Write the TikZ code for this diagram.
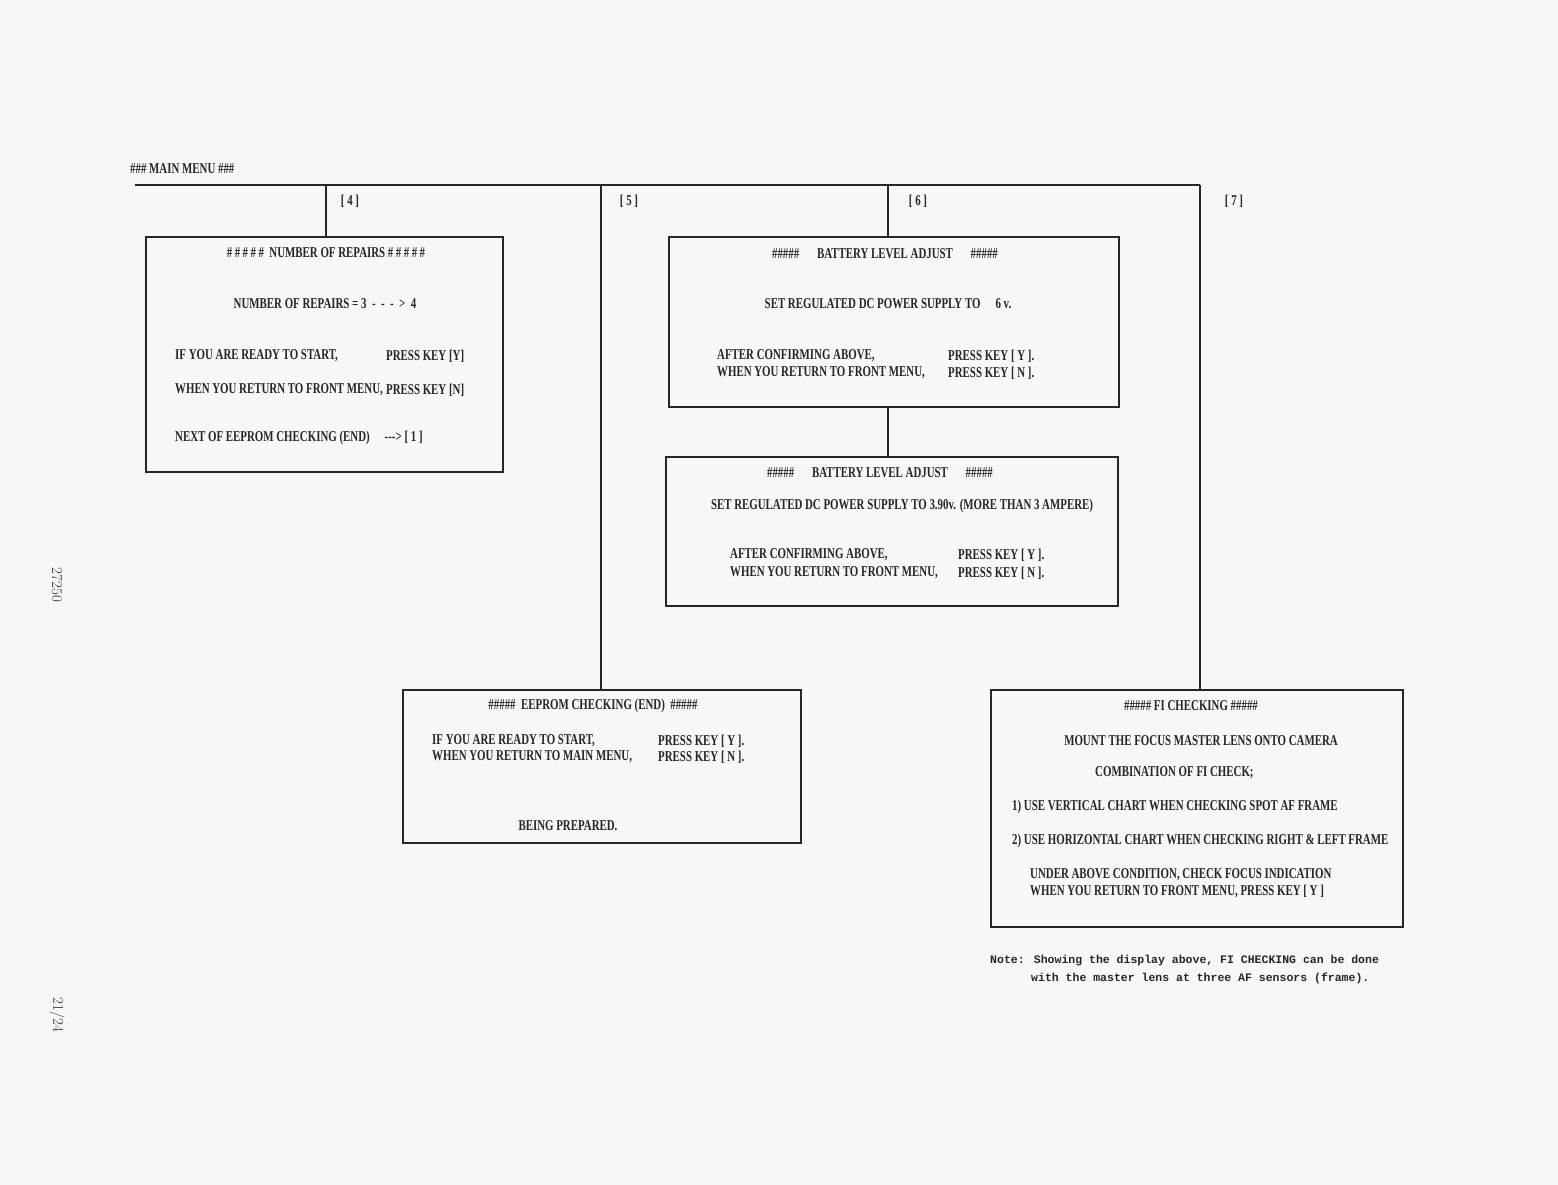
\documentclass[tikz,border=0pt]{standalone}
\usepackage{fontspec}
\newfontfamily\dotfont[FakeStretch=0.725]{Liberation Serif}
\newfontfamily\notefont{Liberation Mono}
\usetikzlibrary{backgrounds}

\begin{document}
\begin{tikzpicture}[x=1pt,y=-1pt,
  screen/.style={draw=black!85,line width=1.2pt,rectangle,inner sep=0pt},
  txt/.style={font=\fontsize{15}{17}\selectfont\dotfont\bfseries,text=black!85,inner sep=0pt},
  lft/.style={txt,anchor=west},
  note/.style={font=\fontsize{11.5}{13}\selectfont\notefont\bfseries,text=black!85,inner sep=0pt,anchor=west},
  side/.style={rotate=-90,font=\fontsize{15}{15}\selectfont,text=black!80,inner sep=0pt},
  wire/.style={draw=black!85,line width=1.4pt}]
\useasboundingbox (0,0) rectangle (1558,1185);
\fill[black!3] (0,0) rectangle (1558,1185);

% menu bar and branch points
\node[lft] (menu) at (130,169) {\#\#\# MAIN MENU \#\#\#};
\coordinate (bar) at (135,185);
\coordinate (b4) at (326,185);
\coordinate (b5) at (601,185);
\coordinate (b6) at (888,185);
\coordinate (b7) at (1200,185);
\node[txt] (l4) at (350,201) {[ 4 ]};
\node[txt] (l5) at (629,201) {[ 5 ]};
\node[txt] (l6) at (918,201) {[ 6 ]};
\node[txt] (l7) at (1234,201) {[ 7 ]};

% screens
\node[screen,minimum width=357pt,minimum height=235pt] (rep) at (324.5,354.5) {};
\node[screen,minimum width=450pt,minimum height=170pt] (bat1) at (894,322) {};
\node[screen,minimum width=452pt,minimum height=149pt] (bat2) at (892,531.5) {};
\node[screen,minimum width=398pt,minimum height=153pt] (eep) at (602,766.5) {};
\node[screen,minimum width=412pt,minimum height=237pt] (fi) at (1197,808.5) {};

% connections
\draw[wire] (bar) -- (b7);
\draw[wire] (b4) -- (b4 |- rep.north);
\draw[wire] (b5) -- (b5 |- eep.north);
\draw[wire] (b6) -- (b6 |- bat1.north);
\draw[wire] (bat1.south -| b6) -- (bat2.north -| b6);
\draw[wire] (b7) -- (b7 |- fi.north);

% number of repairs
\node[txt] (reptitle) at (326,253) {\#\,\#\,\#\,\#\,\#\ \ NUMBER OF REPAIRS \#\,\#\,\#\,\#\,\#};
\node[txt] (repcount) at (325,304) {NUMBER OF REPAIRS = 3 \ - \ - \ - \ > \ 4};
\node[lft] (repy) at (175,356) {IF YOU ARE READY TO START,};
\node[lft] (repykey) at (386,356) {PRESS KEY [Y]};
\node[lft] (repn) at (175,390) {WHEN YOU RETURN TO FRONT MENU,};
\node[lft] (repnkey) at (386,390) {PRESS KEY [N]};
\node[lft] (repnext) at (175,438) {NEXT OF EEPROM CHECKING (END)\quad -{}-{}-> [ 1 ]};

% battery level 6 v
\node[txt] (b1title) at (885,254) {\#\#\#\#\#\quad\ BATTERY LEVEL ADJUST\quad\ \#\#\#\#\#};
\node[txt] (b1set) at (888,304) {SET REGULATED DC POWER SUPPLY TO\quad 6 v.};
\node[lft] (b1y) at (717,356) {AFTER CONFIRMING ABOVE,};
\node[lft] (b1ykey) at (948,356) {PRESS KEY [ Y ].};
\node[lft] (b1n) at (717,373) {WHEN YOU RETURN TO FRONT MENU,};
\node[lft] (b1nkey) at (948,373) {PRESS KEY [ N ].};

% battery level 3.90 v
\node[txt] (b2title) at (880,473) {\#\#\#\#\#\quad\ BATTERY LEVEL ADJUST\quad\ \#\#\#\#\#};
\node[txt] (b2set) at (902,506) {SET REGULATED DC POWER SUPPLY TO 3.90v. (MORE THAN 3 AMPERE)};
\node[lft] (b2y) at (730,555) {AFTER CONFIRMING ABOVE,};
\node[lft] (b2ykey) at (958,555) {PRESS KEY [ Y ].};
\node[lft] (b2n) at (730,573) {WHEN YOU RETURN TO FRONT MENU,};
\node[lft] (b2nkey) at (958,573) {PRESS KEY [ N ].};

% eeprom
\node[txt] (eetitle) at (593,706) {\#\#\#\#\#\ \ EEPROM CHECKING (END)\ \ \#\#\#\#\#};
\node[lft] (eey) at (432,741) {IF YOU ARE READY TO START,};
\node[lft] (eeykey) at (658,741) {PRESS KEY [ Y ].};
\node[lft] (een) at (432,757) {WHEN YOU RETURN TO MAIN MENU,};
\node[lft] (eenkey) at (658,757) {PRESS KEY [ N ].};
\node[txt] (eeprep) at (568,826) {BEING PREPARED.};

% fi checking
\node[txt] (fititle) at (1191,706) {\#\#\#\#\#\ FI CHECKING \#\#\#\#\#};
\node[txt] (fimount) at (1201,741) {MOUNT THE FOCUS MASTER LENS ONTO CAMERA};
\node[lft] (ficomb) at (1095,773) {COMBINATION OF FI CHECK;};
\node[lft] (fione) at (1012,807) {1)\ USE VERTICAL CHART WHEN CHECKING SPOT AF FRAME};
\node[lft] (fitwo) at (1012,841) {2)\ USE HORIZONTAL CHART WHEN CHECKING RIGHT \& LEFT FRAME};
\node[lft] (fiund) at (1030,875) {UNDER ABOVE CONDITION, CHECK FOCUS INDICATION};
\node[lft] (firet) at (1030,891) {WHEN YOU RETURN TO FRONT MENU, PRESS KEY [ Y ]};

\node[note] (note1) at (990,961) {Note: Showing the display above, FI CHECKING can be done};
\node[note] (note2) at (1031,978) {with the master lens at three AF sensors (frame).};

% page marks
\node[side] (docno) at (57,585) {27250};
\node[side] (pageno) at (57,1015) {21/24};
\end{tikzpicture}
\end{document}
